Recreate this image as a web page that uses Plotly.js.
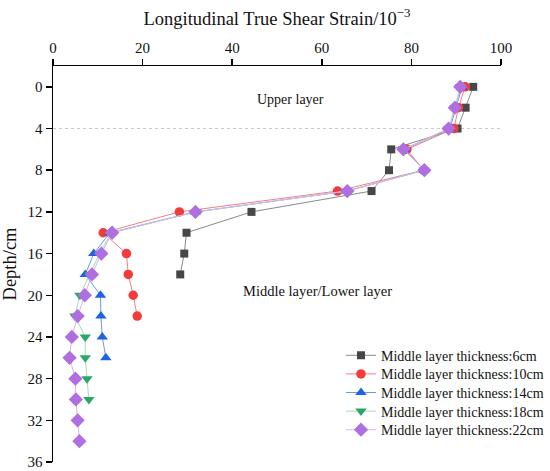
<!DOCTYPE html>
<html>
<head>
<meta charset="utf-8">
<script src="https://cdn.plot.ly/plotly-3.0.1.min.js"></script>
<style>html,body{margin:0;padding:0;background:#fff;}#chart{width:550px;height:471px;}</style>
</head>
<body>
<div id="chart"></div>
<script>
// Depth (cm) and strain (10^-3) per series
const depth6  = [0, 2, 4, 6, 8, 10, 12, 14, 16, 18];
const strain6 = [93.8, 92.1, 90.3, 75.5, 75.0, 71.1, 44.3, 29.8, 29.3, 28.4];

const depth10  = [0, 2, 4, 6, 8, 10, 12, 14, 16, 18, 20, 22];
const strain10 = [92.0, 90.5, 89.5, 79.0, 82.7, 63.5, 28.2, 11.2, 16.4, 16.8, 17.9, 18.8];

const depth14  = [0, 2, 4, 6, 8, 10, 12, 14, 16, 18, 20, 22, 24, 26];
const strain14 = [91.3, 89.9, 88.6, 78.5, 82.8, 65.5, 31.8, 12.7, 9.1, 7.2, 10.6, 10.7, 11.0, 11.8];

const depth18  = [0, 2, 4, 6, 8, 10, 12, 14, 16, 18, 20, 22, 24, 26, 28, 30];
const strain18 = [91.0, 89.7, 88.4, 78.3, 82.8, 65.6, 32.0, 13.0, 10.4, 8.2, 6.0, 4.9, 7.2, 7.2, 7.6, 8.0];

const depth22  = [0, 2, 4, 6, 8, 10, 12, 14, 16, 18, 20, 22, 24, 26, 28, 30, 32, 34];
const strain22 = [90.9, 89.7, 88.3, 78.2, 82.9, 65.7, 31.8, 13.2, 10.8, 8.7, 7.1, 5.5, 4.2, 3.7, 5.0, 5.1, 5.5, 5.9];

const seriesNames = [
  'Middle layer thickness:6cm',
  'Middle layer thickness:10cm',
  'Middle layer thickness:14cm',
  'Middle layer thickness:18cm',
  'Middle layer thickness:22cm'
];
const xTicks = [0, 20, 40, 60, 80, 100];
const yTicks = [0, 4, 8, 12, 16, 20, 24, 28, 32, 36];
const layerBoundary = 4;

const FONT = 'Liberation Serif, Times New Roman, serif';
const legendIds = ['legend', 'legend2', 'legend3', 'legend4', 'legend5'];

function tr(x, y, i, symbol, size, mcol, lcol) {
  return {
    x: x, y: y, name: seriesNames[i], type: 'scatter', mode: 'lines+markers',
    legend: legendIds[i],
    line: {color: lcol, width: 1},
    marker: {symbol: symbol, size: size, color: mcol, line: {width: 0}},
    cliponaxis: false
  };
}

const data = [
  tr(strain6,  depth6,  0, 'square',        8,   '#474747', '#8a8a8a'),
  tr(strain10, depth10, 1, 'circle',        9.5, '#f23b3b', '#f57f7f'),
  tr(strain14, depth14, 2, 'triangle-up',   10,  '#1f63df', '#6b9be8'),
  tr(strain18, depth18, 3, 'triangle-down', 10,  '#29a866', '#a3dcbd'),
  tr(strain22, depth22, 4, 'diamond',       11,  '#b06fe0', '#d6b4f1')
];

const layout = {
  width: 550, height: 471,
  margin: {l: 53, r: 49, t: 66, b: 9, pad: 0, autoexpand: false},
  paper_bgcolor: '#fff', plot_bgcolor: '#fff',
  font: {family: FONT, color: '#111'},
  showlegend: true,
  xaxis: {
    side: 'top', range: [0, 100], tickvals: xTicks, ticktext: xTicks.map(String),
    showgrid: false, zeroline: false, showline: true, linecolor: '#000', linewidth: 1.5,
    ticks: 'outside', ticklen: 6, tickwidth: 1.5, tickcolor: '#000',
    tickfont: {family: FONT, size: 15, color: '#111'},
    title: {text: 'Longitudinal True Shear Strain/10<sup>\u22123</sup>', font: {family: FONT, size: 18.5, color: '#111'}, standoff: 9},
    automargin: false
  },
  yaxis: {
    range: [36, -2], tickvals: yTicks, ticktext: yTicks.map(String),
    showgrid: false, zeroline: false, showline: true, linecolor: '#000', linewidth: 1.5,
    ticks: 'outside', ticklen: 6, tickwidth: 1.5, tickcolor: '#000',
    tickfont: {family: FONT, size: 15, color: '#111'},
    title: {text: 'Depth/cm', font: {family: FONT, size: 18.5, color: '#111'}, standoff: 9},
    automargin: false
  },
  shapes: [{
    type: 'line', xref: 'paper', x0: 0, x1: 1, yref: 'y', y0: layerBoundary, y1: layerBoundary,
    line: {color: '#c8c8c8', width: 1, dash: 'dot'}, layer: 'below'
  }],
  annotations: [
    {text: 'Upper layer', x: 53.1, y: 1.25, xref: 'x', yref: 'y', showarrow: false,
     font: {family: FONT, size: 14, color: '#111'}},
    {text: 'Middle layer/Lower layer', x: 59.1, y: 19.6, xref: 'x', yref: 'y', showarrow: false,
     font: {family: FONT, size: 14.5, color: '#111'}}
  ]
};

// one legend per row so row spacing matches the reference
const plotTop = 66, plotBottom = 471 - 9;
const rowCenters = [355.7, 374.3, 392.9, 411.5, 430.1];
const legendLeftPx = 341;
legendIds.forEach((id, i) => {
  layout[id] = {
    x: (legendLeftPx - 53) / (550 - 53 - 49), xanchor: 'left',
    y: (plotBottom - rowCenters[i]) / (plotBottom - plotTop), yanchor: 'middle',
    bgcolor: 'rgba(0,0,0,0)', borderwidth: 0,
    font: {family: FONT, size: 14, color: '#111'}
  };
});

Plotly.newPlot('chart', data, layout, {displayModeBar: false, staticPlot: true});
</script>
</body>
</html>
